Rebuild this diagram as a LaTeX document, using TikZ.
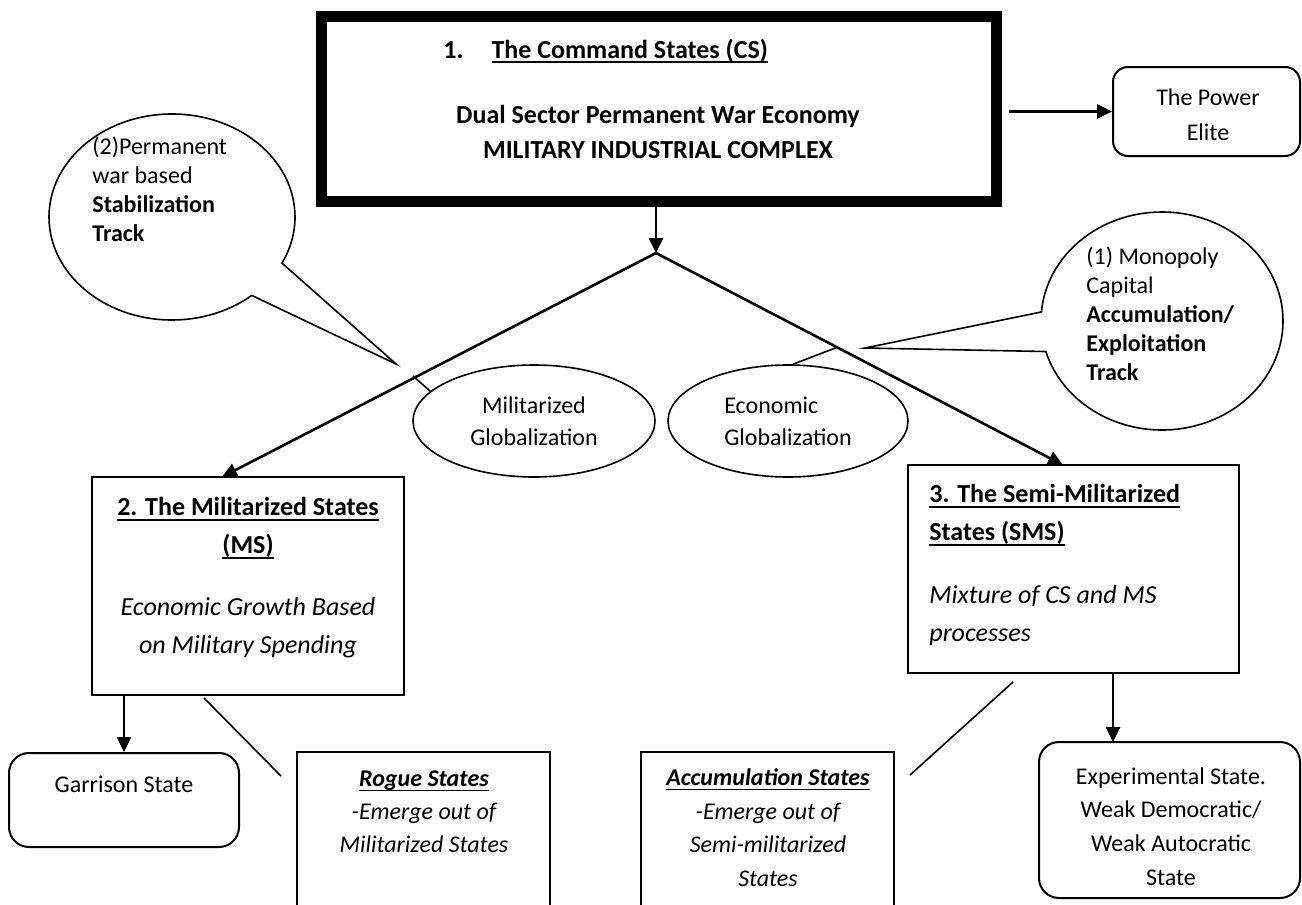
\documentclass[tikz,border=0pt]{standalone}
\usepackage{fontspec}
\setmainfont{Carlito}
\usetikzlibrary{arrows.meta,positioning,shapes.geometric,shapes.callouts,fit}
\newcommand{\ulbar}[1]{\setbox0\hbox{#1}\rlap{\rule[-2.6pt]{\wd0}{0.9pt}}\box0}

\begin{document}
\begin{tikzpicture}[x=0.5pt,y=-0.5pt,
  cmdbox/.style={draw,line width=5.5pt,inner sep=0pt},
  statebox/.style={draw,line width=1pt,inner sep=0pt},
  roundbox/.style={draw,line width=1pt,rounded corners=10pt,inner sep=0pt},
  globell/.style={draw,ellipse,line width=0.8pt,minimum width=121pt,minimum height=56pt,
    inner sep=0pt,font=\fontsize{12}{16}\selectfont},
  trackcall/.style={draw,ellipse callout,line width=0.8pt,inner sep=0pt,callout pointer arc=23},
  bodytxt/.style={inner sep=0pt,font=\fontsize{12}{16.5}\selectfont},
  bigtxt/.style={inner sep=0pt,font=\fontsize{13}{19}\selectfont},
  arr/.style={-{Triangle[length=7.5pt,width=7pt]},line width=1.3pt},
  tie/.style={line width=0.8pt}
]
  \useasboundingbox (0,0) rectangle (1302,905);
  \clip (0,0) rectangle (1302,905);

  % Command states
  \node[cmdbox,fit={(321,16) (996,201)}] (cs) {};
  \node[bigtxt,anchor=base west] (cstitle) at (443,58)
    {\textbf{1.}\hspace{14pt}\ulbar{\textbf{The Command States (CS)}}};
  \node[inner sep=0pt,font=\fontsize{13}{17.5}\selectfont\bfseries,align=center] (csbody) at (658,132)
    {Dual Sector Permanent War Economy\\MILITARY INDUSTRIAL COMPLEX};

  % Power elite
  \node[roundbox,rounded corners=7.5pt,fit={(1113,67) (1300,156)}] (pe) {};
  \node[bodytxt,align=center,font=\fontsize{12}{17.5}\selectfont] (petxt) at (1208,115) {The Power\\Elite};
  \draw[arr] ([xshift=3.5pt]cs.east |- pe.west) -- (pe.west);

  % Split
  \coordinate (apex) at (656,253);
  \draw[arr] (cs.south -| apex) -- (apex);

  % Globalization
  \node[globell,align=center] (mg) at (534,421) {Militarized\\Globalization};
  \node[globell,align=left,minimum width=120pt] (eg) at (788,421) {Economic\\Globalization};

  % The two tracks
  \node[statebox,fit={(92,477) (404,695)}] (ms) {};
  \node[statebox,fit={(908,465) (1239,673)}] (sms) {};
  \coordinate (msin) at (222,477);
  \coordinate (smsin) at (1063,465);
  \draw[arr] (apex) -- (msin);
  \draw[arr] (apex) -- (smsin);

  \coordinate (mgtap) at (413,376);
  \coordinate (egtap) at (838,347);
  \draw[tie] (mgtap) -- (mg.164);
  \draw[tie] (eg.85) -- (egtap);

  % Callouts
  \node[trackcall,minimum width=123pt,minimum height=103pt,
    callout absolute pointer={(396,364)}] (stab) at (172,217) {};
  \node[bodytxt,align=left,anchor=north west,font=\fontsize{12}{14.5}\selectfont] (stabtxt) at (92,137)
    {(2)Permanent\\war based\\\textbf{Stabilization}\\\textbf{Track}};
  \node[trackcall,minimum width=121pt,minimum height=109pt,callout pointer arc=21,
    callout absolute pointer={(865,348)}] (accu) at (1162,321) {};
  \node[bodytxt,align=left,anchor=north west,font=\fontsize{12}{14.4}\selectfont] (accutxt) at (1086,247)
    {(1) Monopoly\\Capital\\\textbf{Accumulation/}\\\textbf{Exploitation}\\\textbf{Track}};

  % State texts
  \node[bigtxt,align=center,anchor=north] (mstxt) at (248,497)
    {\ulbar{\textbf{2. The Militarized States}}\\\ulbar{\textbf{(MS)}}\\[12pt]
     \textit{Economic Growth Based}\\\textit{on Military Spending}};
  \node[bigtxt,align=left,anchor=north west] (smstxt) at (929,484)
    {\ulbar{\textbf{3. The Semi-Militarized}}\\\ulbar{\textbf{States (SMS)}}\\[12.5pt]
     \textit{Mixture of CS and MS}\\\textit{processes}};

  % Garrison
  \node[roundbox,fit={(9,753) (239,847)}] (gs) {};
  \node[bodytxt] (gstxt) at (124,784) {Garrison State};
  \draw[arr] (ms.south -| gs.north) -- (gs.north);

  % Rogue states
  \node[statebox,fit={(297,752) (550,930)}] (rg) {};
  \node[bodytxt,align=center,anchor=north,font=\fontsize{12}{16.5}\selectfont\itshape] (rgtxt) at (424,770)
    {\ulbar{\textbf{Rogue States}}\\-Emerge out of\\Militarized States};
  \coordinate (msrg) at (204,698);
  \coordinate (rgms) at (281,776);
  \draw[tie] (msrg) -- (rgms);

  % Accumulation states
  \node[statebox,fit={(641,752) (894,930)}] (ac) {};
  \node[bodytxt,align=center,anchor=north,font=\fontsize{12}{16.9}\selectfont\itshape] (actxt) at (768,768)
    {\ulbar{\textbf{Accumulation States}}\\-Emerge out of\\Semi-militarized\\States};
  \coordinate (smsac) at (1013,682);
  \coordinate (acsms) at (910,775);
  \draw[tie] (smsac) -- (acsms);

  % Experimental
  \node[roundbox,fit={(1039,742) (1300,898)}] (ex) {};
  \node[bodytxt,align=center,anchor=north,font=\fontsize{12}{16.9}\selectfont] (extxt) at (1171,767)
    {Experimental State.\\Weak Democratic/\\Weak Autocratic\\State};
  \coordinate (exin) at (1113,742);
  \draw[arr] (sms.south -| exin) -- (exin);
\end{tikzpicture}
\end{document}
